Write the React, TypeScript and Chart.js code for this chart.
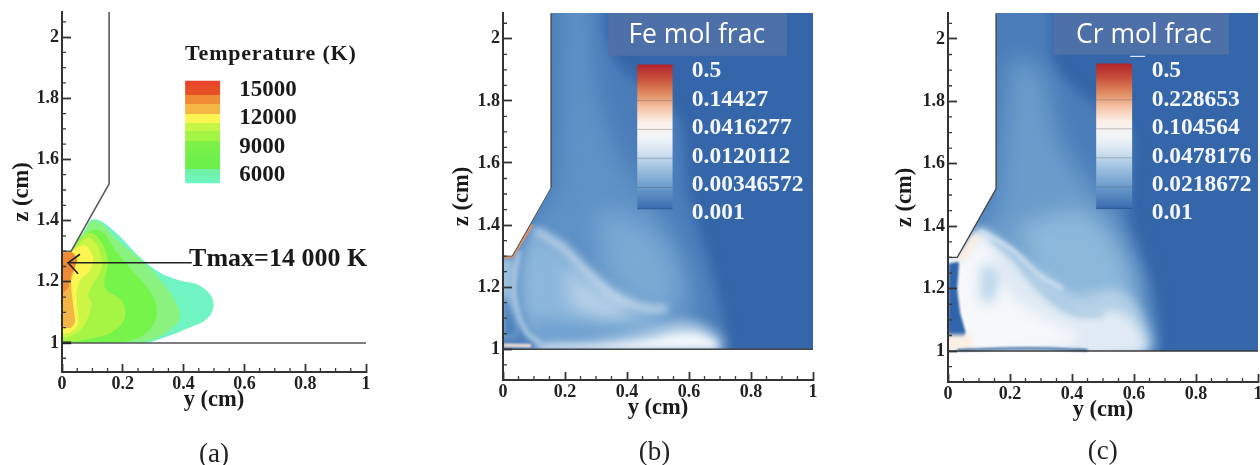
import React, { useEffect, useRef } from "react";
import { Chart, registerables } from "chart.js";

Chart.register(...registerables);

type Pt = number[];

const yTicks = [0, 0.2, 0.4, 0.6, 0.8, 1];
const zTicks = [1, 1.2, 1.4, 1.6, 1.8, 2];
const yMinor = [0.05, 0.1, 0.15, 0.25, 0.3, 0.35, 0.45, 0.5, 0.55, 0.65, 0.7, 0.75, 0.85, 0.9, 0.95];
const zMinor = [0.95, 1.05, 1.1, 1.15, 1.25, 1.3, 1.35, 1.45, 1.5, 1.55, 1.65, 1.7, 1.75, 1.85, 1.9, 1.95, 2.05];

const wall: Pt[] = [[0, 1.3], [0.03, 1.3], [0.155, 1.52], [0.155, 2.082]];
const floor: Pt[] = [[0, 1], [1, 1]];
const wallMask: Pt[] = [[-0.05, 1.3], [0.03, 1.3], [0.155, 1.52], [0.155, 2.2], [-0.05, 2.2]];
const floorMask: Pt[] = [[-0.05, 1], [1.05, 1], [1.05, 0.8], [-0.05, 0.8]];
const fullField: Pt[] = [[-0.05, 0.95], [1.05, 0.95], [1.05, 2.2], [-0.05, 2.2]];

// (a) temperature contours
const tLevel1: Pt[] = [[0.03, 1.3], [0.07, 1.36], [0.103, 1.404], [0.169, 1.368], [0.257, 1.28], [0.322, 1.23], [0.388, 1.204], [0.454, 1.187], [0.497, 1.138], [0.48, 1.082], [0.41, 1.046], [0.332, 1.016], [0.27, 1.0], [0, 1], [0, 1.3]];
const tLevel2: Pt[] = [[0.03, 1.3], [0.07, 1.36], [0.108, 1.4], [0.196, 1.324], [0.262, 1.269], [0.317, 1.214], [0.372, 1.138], [0.388, 1.083], [0.35, 1.039], [0.284, 1.007], [0.2, 1.0], [0, 1], [0, 1.3]];
const tLevel3: Pt[] = [[0.03, 1.3], [0.07, 1.35], [0.125, 1.368], [0.185, 1.29], [0.24, 1.226], [0.295, 1.16], [0.311, 1.095], [0.284, 1.039], [0.229, 1.01], [0.15, 1.0], [0, 1], [0, 1.3]];
const tLevel4: Pt[] = [[0.03, 1.3], [0.081, 1.358], [0.119, 1.345], [0.151, 1.27], [0.141, 1.182], [0.196, 1.138], [0.207, 1.083], [0.163, 1.034], [0.086, 1.013], [0.026, 1.004], [0, 1.004], [0, 1.3]];
const tLevel5: Pt[] = [[0.03, 1.3], [0.086, 1.345], [0.119, 1.313], [0.13, 1.247], [0.086, 1.16], [0.098, 1.127], [0.076, 1.062], [0.043, 1.03], [0, 1.02], [0, 1.3]];
const tLevel6: Pt[] = [[0.03, 1.3], [0.076, 1.319], [0.102, 1.28], [0.092, 1.236], [0.059, 1.204], [0.048, 1.149], [0.053, 1.062], [0.026, 1.034], [0, 1.034], [0, 1.3]];
const tLevel7: Pt[] = [[0, 1.296], [0.03, 1.296], [0.045, 1.26], [0.03, 1.2], [0.037, 1.12], [0.043, 1.07], [0.03, 1.05], [0, 1.05]];
const tLevel8: Pt[] = [[0, 1.295], [0.035, 1.295], [0.05, 1.27], [0.03, 1.22], [0.02, 1.18], [0, 1.16]];
const tColors = ["#70f5c2", "#8af27f", "#76f44a", "#a6f444", "#cdf545", "#fbf552", "#f3b545", "#ee8a35"];
const tTension = [0.4, 0.4, 0.4, 0.35, 0.3, 0.3, 0.2, 0.2];
const arrowShaft: Pt[] = [[0.427, 1.262], [0.02, 1.262]];
const arrowHead: Pt[] = [[0.059, 1.29], [0.02, 1.262], [0.053, 1.226]];
const tBar: Pt[] = [[0.405, 1.857], [0.52, 1.857], [0.52, 1.522], [0.405, 1.522]];
const tBarStops: [number, string][] = [[0, "#e8452c"], [0.05, "#e8452c"], [0.05, "#e65024"], [0.137, "#e65024"], [0.137, "#ef8a35"], [0.228, "#ef8a35"], [0.228, "#f4b745"], [0.325, "#f4b745"], [0.325, "#fbf552"], [0.412, "#fbf552"], [0.412, "#c6f546"], [0.494, "#c6f546"], [0.494, "#a2f545"], [0.59, "#a2f545"], [0.59, "#80f146"], [0.77, "#6ef04b"], [0.86, "#6ef04b"], [0.86, "#6ff1a0"], [1, "#70f5c2"]];

// (b) Fe field
const fePlume: Pt[] = [[0.1, 2.2], [0.3, 2.2], [0.33, 2.0], [0.37, 1.92], [0.47, 1.83], [0.57, 1.74], [0.6, 1.5], [0.66, 1.3], [0.7, 1.15], [0.715, 0.98], [-0.05, 0.98], [-0.05, 1.5], [0.1, 1.5]];
const fePlume2: Pt[] = [[0.19, 2.2], [0.27, 2.2], [0.3, 1.85], [0.38, 1.62], [0.5, 1.46], [0.59, 1.28], [0.63, 1.1], [0.5, 1.02], [0.1, 1.03], [0.08, 1.4], [0.16, 1.5], [0.18, 1.7]];
const fePlume3: Pt[] = [[0.3, 1.45], [0.42, 1.42], [0.52, 1.34], [0.57, 1.2], [0.5, 1.1], [0.33, 1.22]];
const feLobe: Pt[] = [[0.08, 1.38], [0.18, 1.33], [0.28, 1.24], [0.42, 1.14], [0.5, 1.09], [0.5, 1.05], [0.3, 1.03], [0.12, 1.03], [0.06, 1.12], [0.05, 1.25]];
const feLobeLight: Pt[] = [[0.2, 1.27], [0.3, 1.19], [0.42, 1.12], [0.34, 1.1], [0.22, 1.14]];
const feLobeDeep: Pt[] = [[0.1, 1.1], [0.3, 1.08], [0.45, 1.07], [0.5, 1.05], [0.3, 1.03], [0.11, 1.03]];
const feRidge: Pt[] = [[0.1, 1.385], [0.19, 1.33], [0.27, 1.25], [0.36, 1.17], [0.47, 1.13], [0.53, 1.13]];
const feRidgeLeft: Pt[] = [[0.05, 1.32], [0.035, 1.2], [0.05, 1.11], [0.08, 1.05], [0.12, 1.02]];
const feBottomSoft: Pt[] = [[0.2, 1.0], [0.33, 1.03], [0.46, 1.06], [0.56, 1.09], [0.64, 1.08], [0.7, 1.04], [0.715, 1.0]];
const feBottom: Pt[] = [[0.1, 1.0], [0.12, 1.016], [0.33, 1.018], [0.46, 1.03], [0.56, 1.05], [0.63, 1.05], [0.68, 1.025], [0.7, 1.0]];
const feColumn: Pt[] = [[-0.05, 1.29], [0.035, 1.29], [0.03, 1.2], [0.045, 1.06], [0.04, 1.04], [-0.05, 1.04]];
const feColumnDark: Pt[] = [[0, 1.18], [0.018, 1.15], [0.045, 1.07], [0.04, 1.04], [0, 1.04]];
const fePink: Pt[] = [[0, 1.013], [0.09, 1.011]];
const feWallGlow: Pt[] = [[0, 1.295], [0.03, 1.297], [0.095, 1.4]];

// (c) Cr field
const crPlume: Pt[] = [[0.1, 2.2], [0.32, 2.2], [0.34, 1.92], [0.46, 1.8], [0.59, 1.7], [0.58, 1.4], [0.65, 1.2], [0.67, 0.98], [-0.05, 0.98], [-0.05, 1.5], [0.1, 1.5]];
const crPlume2: Pt[] = [[0.2, 1.95], [0.3, 1.9], [0.36, 1.68], [0.47, 1.52], [0.56, 1.38], [0.62, 1.2], [0.62, 1.02], [0.1, 1.02], [0.08, 1.38], [0.15, 1.45]];
const crPlume3: Pt[] = [[0.22, 1.4], [0.42, 1.45], [0.53, 1.36], [0.6, 1.18], [0.52, 1.1], [0.3, 1.2]];
const crHalo: Pt[] = [[0.03, 1.3], [0.1, 1.39], [0.2, 1.33], [0.32, 1.24], [0.42, 1.18], [0.54, 1.2], [0.61, 1.15], [0.65, 1.0], [-0.05, 1.0], [-0.05, 1.3]];
const crWhite: Pt[] = [[0.03, 1.3], [0.1, 1.385], [0.17, 1.33], [0.27, 1.22], [0.37, 1.13], [0.47, 1.12], [0.54, 1.13], [0.6, 1.09], [0.63, 1.0], [-0.05, 1.0], [-0.05, 1.3]];
const crCore: Pt[] = [[0.05, 1.3], [0.1, 1.36], [0.14, 1.32], [0.2, 1.18], [0.32, 1.1], [0.42, 1.05], [0.35, 1.01], [-0.05, 1.01], [-0.05, 1.3]];
const crPatch: Pt[] = [[0.11, 1.28], [0.16, 1.26], [0.15, 1.17], [0.12, 1.15], [0.1, 1.2]];
const crRidgeDark: Pt[] = [[0.14, 1.36], [0.22, 1.3], [0.3, 1.2], [0.42, 1.12], [0.5, 1.12]];
const crRidge: Pt[] = [[0.1, 1.385], [0.2, 1.33], [0.3, 1.24], [0.37, 1.2]];
const crPink: Pt[] = [[-0.02, 1.03], [0.08, 1.03]];
const crWallGlow: Pt[] = [[0.04, 1.29], [0.095, 1.37]];
const crPocket: Pt[] = [[0.002, 1.28], [0.035, 1.285], [0.03, 1.2], [0.04, 1.12], [0.057, 1.06], [0.05, 1.04], [0.0, 1.04]];
const crStrip: Pt[] = [[0.03, 1.003], [0.18, 1.008], [0.33, 1.008], [0.45, 1.003]];

// colour bars for (b) and (c)
const feBar: Pt[] = [[0.433, 1.917], [0.547, 1.917], [0.547, 1.4526], [0.433, 1.4526]];
const crBar: Pt[] = [[0.478, 1.921], [0.594, 1.921], [0.594, 1.457], [0.478, 1.457]];
const molStops: [number, string][] = [[0, "#b2242a"], [0.1, "#c8503c"], [0.2, "#e08a60"], [0.3, "#f5c3a6"], [0.4, "#fbefe6"], [0.5, "#f2f5f8"], [0.6, "#d6e4f1"], [0.7, "#a8c7e2"], [0.85, "#6a9bcc"], [1, "#3a6cae"]];
const feBarLevels = [1.801, 1.708, 1.615, 1.521];
const crBarLevels = [1.805, 1.712, 1.619, 1.526];
const feBox: Pt[] = [[0.339, 2.082], [0.916, 2.082], [0.916, 1.945], [0.339, 1.945]];
const crBox: Pt[] = [[0.342, 2.082], [0.906, 2.082], [0.906, 1.95], [0.342, 1.95]];
const crDash: Pt[] = [[0.588, 1.944], [0.636, 1.944]];

// texts
const tLabels = ["15000", "12000", "9000", "6000"];
const tLabelZ = [1.826, 1.734, 1.642, 1.55];
const feLabels = ["0.5", "0.14427", "0.0416277", "0.0120112", "0.00346572", "0.001"];
const feLabelZ = [1.897, 1.804, 1.7115, 1.618, 1.528, 1.439];
const crLabels = ["0.5", "0.228653", "0.104564", "0.0478176", "0.0218672", "0.01"];
const crLabelZ = [1.898, 1.805, 1.715, 1.623, 1.533, 1.443];

const SERIF = "'Liberation Serif'";
const BASE = "#3566a9";

type Txt = { t: string; x: number; z: number; font: string; color: string; align?: CanvasTextAlign; spacing?: string };
type Layer = { pts: Pt[]; fill?: any; stroke?: string; w?: number; blur?: number; smooth?: number };

const shape = (pts: Pt[], fill: any, blur = 0, smooth = 0): Layer => ({ pts, fill, blur, smooth });
const line = (pts: Pt[], stroke: string, w: number, blur = 0, smooth = 0): Layer => ({ pts, stroke, w, blur, smooth });
const hline = (x0: number, x1: number, z: number): Pt[] => [[x0, z], [x1, z]];

const barGradient = (bar: Pt[], stops: [number, string][]) => (c: any) => {
  const s = c.chart.scales.y;
  const a = s ? s.getPixelForValue(bar[0][1]) : NaN;
  const b = s ? s.getPixelForValue(bar[2][1]) : NaN;
  if (!Number.isFinite(a) || !Number.isFinite(b)) return stops[0][1];
  const g = c.chart.ctx.createLinearGradient(0, a, 0, b);
  stops.forEach(([o, col]) => g.addColorStop(o, col));
  return g;
};

const temperature: Layer[] = [
  ...[tLevel1, tLevel2, tLevel3, tLevel4, tLevel5, tLevel6, tLevel7, tLevel8].map((p, i) => shape(p, tColors[i], 0.7, tTension[i])),
  shape(wallMask, "#ffffff"),
  shape(floorMask, "#ffffff"),
  line(wall, "#5a5a5a", 1.6),
  line(floor, "#555555", 1.6),
  line([[0, 1], [0.03, 1]], "#111111", 2.5),
  line(arrowShaft, "#222222", 1.6),
  line(arrowHead, "#222222", 1.6),
  shape(tBar, barGradient(tBar, tBarStops)),
];

const fe: Layer[] = [
  shape(fullField, BASE),
  shape(fePlume, "#4a7db9", 6, 0.2),
  shape(fePlume2, "#5f92c6", 12, 0.3),
  shape(fePlume3, "#7aa9d3", 12, 0.3),
  shape(feLobe, "#8db7db", 8, 0.3),
  shape(feLobeLight, "#b8d2e8", 9, 0.4),
  shape(feLobeDeep, "#6ea0cf", 7, 0.3),
  shape(feColumn, "#9cc0df", 3, 0.2),
  shape(feColumnDark, "#4b80bc", 3, 0.2),
  line(feRidge, "#d2e2f0", 6, 4.5, 0.3),
  line(feRidgeLeft, "#bed6ea", 4, 2.5, 0.3),
  shape(feBottomSoft, "#b4cfe6", 6, 0.3),
  shape(feBottom, "#f0f5fa", 3.5, 0.3),
  line(fePink, "#f8dfd4", 3.5, 0.8),
  shape(wallMask, "#ffffff"),
  shape(floorMask, "#ffffff"),
  line(feWallGlow, "#e0905f", 2.2, 0.5),
  line(wall.slice(2), "#4a4a4a", 1.4),
  line(wall.slice(0, 3), "#555555", 1),
  line(floor, "#444444", 1.6),
  shape(feBox, "rgba(80,113,168,0.95)"),
  shape(feBar, barGradient(feBar, molStops)),
  ...feBarLevels.map((z) => line(hline(0.433, 0.547, z), "rgba(90,90,90,0.35)", 1)),
  line(hline(0.433, 0.547, feBar[2][1]), "#2f5c98", 1.2),
];

const cr: Layer[] = [
  shape(fullField, BASE),
  shape(crPlume, "#4a7db9", 6, 0.2),
  shape(crPlume2, "#6a9cca", 12, 0.3),
  shape(crPlume3, "#8db8da", 11, 0.3),
  shape(crHalo, "#b4d0e7", 6, 0.25),
  shape(crWhite, "#dfeaf4", 5, 0.25),
  shape(crCore, "#f6f8fa", 7, 0.3),
  shape(crPatch, "#bcd6ea", 6, 0.4),
  line(crRidgeDark, "#a8c8e2", 5, 3, 0.3),
  line(crRidge, "#dbe8f3", 3, 2, 0.3),
  shape(crPocket, "#3064ab", 1, 0.1),
  line(crPink, "#fbeee3", 14, 2),
  line(crWallGlow, "#fbeee0", 7, 2),
  shape(wallMask, "#ffffff"),
  shape(floorMask, "#ffffff"),
  line(crStrip, "#33669f", 2.4, 0.8, 0.2),
  line(wall, "#444444", 1.3),
  line(floor, "#3a3a3a", 1.5),
  shape(crBox, "rgba(80,113,168,0.95)"),
  line(crDash, "#dbe6f2", 1.2),
  shape(crBar, barGradient(crBar, molStops)),
  ...crBarLevels.map((z) => line(hline(0.478, 0.594, z), "rgba(90,90,90,0.35)", 1)),
  line(hline(0.478, 0.594, crBar[2][1]), "#2f5c98", 1.2),
];

const whiteText = "#f3f6fa";
const bold = (n: number) => `bold ${n}px ${SERIF}`;
const tempTexts: Txt[] = [
  { t: "Temperature (K)", x: 0.687, z: 1.943, font: bold(22), color: "#1a1a1a", align: "center", spacing: "0.8px" },
  ...tLabels.map((t, i) => ({ t, x: 0.583, z: tLabelZ[i], font: bold(23), color: "#1a1a1a" })),
  { t: "Tmax=14 000 K", x: 0.418, z: 1.275, font: bold(26), color: "#1a1a1a" },
  { t: "(a)", x: 0.5, z: 0.635, font: `27px ${SERIF}`, color: "#222222", align: "center" },
];
const feTexts: Txt[] = [
  { t: "Fe mol frac", x: 0.625, z: 2.012, font: "26.5px 'Open Sans'", color: "#ffffff", align: "center" },
  ...feLabels.map((t, i) => ({ t, x: 0.609, z: feLabelZ[i], font: bold(23.5), color: whiteText })),
  { t: "(b)", x: 0.489, z: 0.665, font: `27px ${SERIF}`, color: "#222222", align: "center" },
];
const crTexts: Txt[] = [
  { t: "Cr mol frac", x: 0.632, z: 2.012, font: "26.5px 'Open Sans'", color: "#ffffff", align: "center" },
  ...crLabels.map((t, i) => ({ t, x: 0.657, z: crLabelZ[i], font: bold(23.5), color: whiteText })),
  { t: "(c)", x: 0.499, z: 0.676, font: `27px ${SERIF}`, color: "#222222", align: "center" },
];

type PanelSpec = {
  left: number; width: number; areaLeft: number; areaRight: number; areaTop: number; areaBottom: number;
  zMin: number; zMax: number; titlePad: number; layers: Layer[]; texts: Txt[];
};

const panels: PanelSpec[] = [
  { left: 0, width: 425, areaLeft: 62, areaRight: 366, areaTop: 12, areaBottom: 372, zMin: 0.905, zMax: 2.082, titlePad: 8.7, layers: temperature, texts: tempTexts },
  { left: 440, width: 420, areaLeft: 63, areaRight: 373, areaTop: 13, areaBottom: 380, zMin: 0.901, zMax: 2.083, titlePad: 8.7, layers: fe, texts: feTexts },
  { left: 880, width: 380, areaLeft: 68, areaRight: 378, areaTop: 13, areaBottom: 382, zMin: 0.901, zMax: 2.083, titlePad: 12, layers: cr, texts: crTexts },
];

const H = 465;
const X_BAND = 42;

const overlay = (spec: PanelSpec) => ({
  id: "overlay",
  beforeDatasetsDraw(chart: any) {
    const metas = chart.getSortedVisibleDatasetMetas();
    const last = metas[metas.length - 1];
    const b = chart.data.datasets[last.index].blur || 0;
    chart.ctx.filter = b ? `blur(${b}px)` : "none";
  },
  afterDatasetDraw(chart: any, args: any) {
    const metas = chart.getSortedVisibleDatasetMetas();
    const pos = metas.findIndex((m: any) => m.index === args.index);
    const next = metas[pos - 1];
    const b = next ? chart.data.datasets[next.index].blur || 0 : 0;
    chart.ctx.filter = b ? `blur(${b}px)` : "none";
  },
  afterDraw(chart: any) {
    const { ctx, scales } = chart;
    ctx.save();
    ctx.filter = "none";
    ctx.strokeStyle = "#3a3a3a";
    ctx.lineWidth = 1.3;
    ctx.beginPath();
    yMinor.forEach((v) => {
      const px = scales.x.getPixelForValue(v);
      ctx.moveTo(px, scales.x.top);
      ctx.lineTo(px, scales.x.top - 4);
    });
    zMinor.forEach((v) => {
      const py = scales.y.getPixelForValue(v);
      ctx.moveTo(scales.y.right, py);
      ctx.lineTo(scales.y.right + 4, py);
    });
    ctx.stroke();
    ctx.textBaseline = "middle";
    spec.texts.forEach((t) => {
      ctx.font = t.font;
      ctx.fillStyle = t.color;
      ctx.textAlign = t.align || "left";
      (ctx as any).letterSpacing = t.spacing || "0px";
      ctx.fillText(t.t, scales.x.getPixelForValue(t.x), scales.y.getPixelForValue(t.z));
    });
    ctx.restore();
  },
});

const noPadding = (s: any) => {
  s.paddingTop = 0;
  s.paddingBottom = 0;
  s.paddingLeft = 0;
  s.paddingRight = 0;
};

function Panel({ spec }: { spec: PanelSpec }) {
  const ref = useRef<HTMLCanvasElement>(null);
  useEffect(() => {
    const painted = [...spec.layers].reverse();
    const tickFont = { family: SERIF, size: 18, weight: "bold" as const };
    const titleFont = { family: SERIF, size: 22.5, weight: "bold" as const };
    const chart = new Chart(ref.current as HTMLCanvasElement, {
      type: "scatter",
      data: {
        datasets: painted.map((l) => ({
          data: l.pts.map(([x, y]) => ({ x, y })),
          showLine: true,
          pointRadius: 0,
          pointHoverRadius: 0,
          tension: l.smooth || 0,
          borderColor: l.stroke || "transparent",
          borderWidth: l.stroke ? l.w : 0,
          backgroundColor: l.fill || "transparent",
          fill: l.fill ? "shape" : false,
          blur: l.blur || 0,
        })) as any,
      },
      options: {
        animation: false,
        responsive: false,
        events: [],
        layout: { padding: { left: 0, right: spec.width - spec.areaRight, top: spec.areaTop, bottom: H - spec.areaBottom - X_BAND } },
        plugins: { legend: { display: false }, tooltip: { enabled: false } },
        scales: {
          x: {
            type: "linear",
            min: 0,
            max: 1,
            afterBuildTicks: (s: any) => { s.ticks = yTicks.map((value) => ({ value })); },
            afterFit: (s: any) => { s.height = X_BAND; noPadding(s); },
            grid: { drawOnChartArea: false, tickLength: -8, tickColor: "#333333", tickWidth: 1.8, z: 2 },
            border: { color: "#333333", width: 2, z: 2 },
            ticks: { font: tickFont, color: "#222222", padding: 10, maxRotation: 0, autoSkip: false, callback: (v: any) => String(v) },
            title: { display: true, text: "y (cm)", font: titleFont, color: "#1a1a1a", padding: 0 },
          },
          y: {
            type: "linear",
            min: spec.zMin,
            max: spec.zMax,
            afterBuildTicks: (s: any) => { s.ticks = zTicks.map((value) => ({ value })); },
            afterFit: (s: any) => { s.width = spec.areaLeft; noPadding(s); },
            grid: { drawOnChartArea: false, tickLength: -9, tickColor: "#333333", tickWidth: 1.8, z: 2 },
            border: { color: "#333333", width: 2, z: 2 },
            ticks: { font: tickFont, color: "#222222", padding: 12, autoSkip: false, callback: (v: any) => String(v) },
            title: { display: true, text: "z (cm)", font: titleFont, color: "#1a1a1a", padding: { top: spec.titlePad, bottom: 0 } },
          },
        },
      } as any,
      plugins: [overlay(spec)],
    });
    return () => chart.destroy();
  }, [spec]);
  return (
    <canvas
      ref={ref}
      width={spec.width}
      height={H}
      style={{ position: "absolute", left: spec.left, top: 0, width: spec.width, height: H, filter: "blur(0.5px)" }}
    />
  );
}

export default function App() {
  return (
    <div style={{ position: "fixed", left: 0, top: 0, width: 1260, height: H, background: "#ffffff", overflow: "hidden" }}>
      {panels.map((p, i) => (
        <Panel key={i} spec={p} />
      ))}
    </div>
  );
}
